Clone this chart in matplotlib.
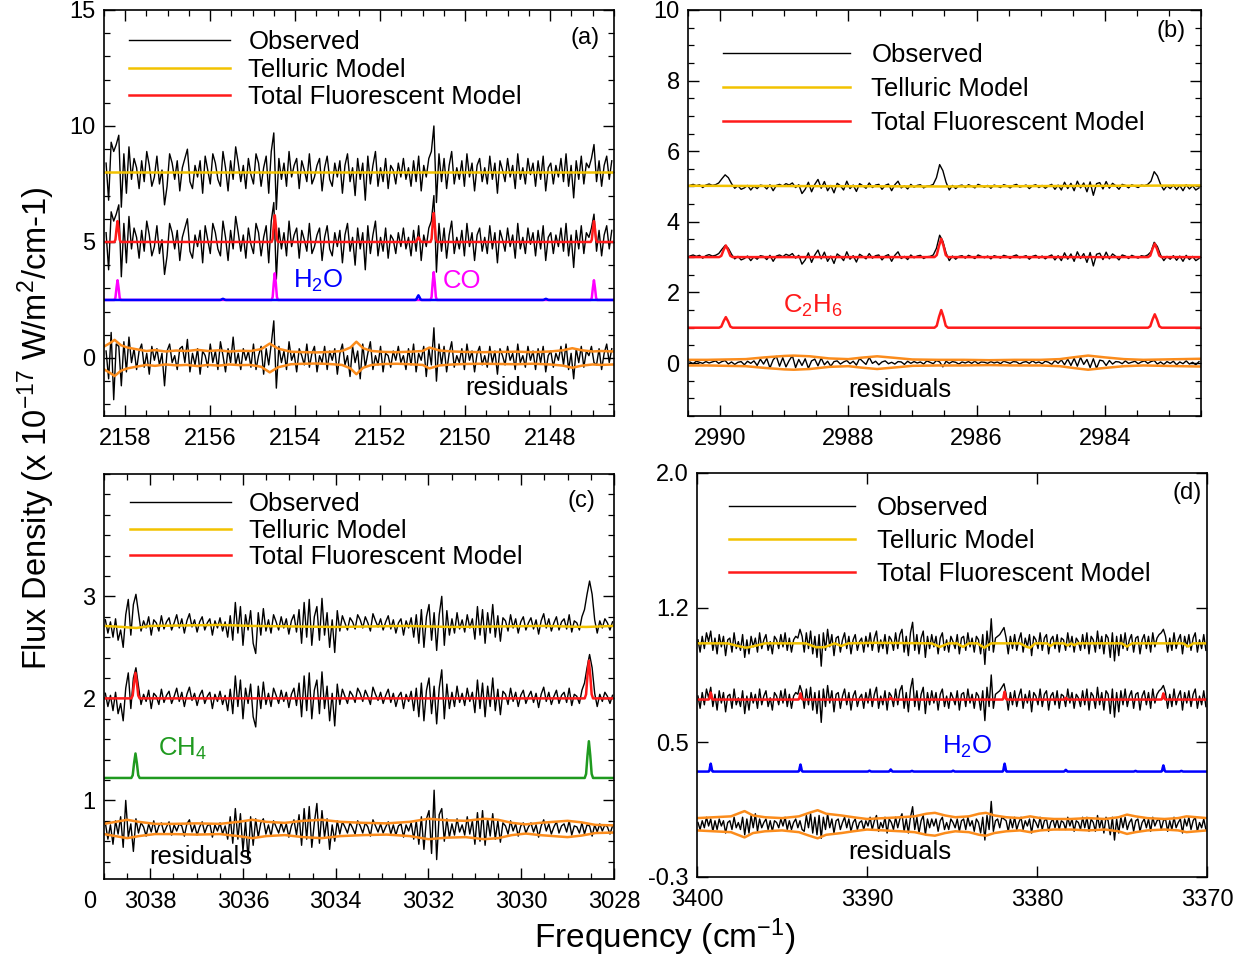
import numpy as np
import matplotlib
matplotlib.use("Agg")
import matplotlib.pyplot as plt
from matplotlib.ticker import MultipleLocator, NullLocator

plt.rcParams["font.family"] = ["Liberation Sans", "DejaVu Sans"]
plt.rcParams["mathtext.fontset"] = "custom"
plt.rcParams["mathtext.rm"] = "Liberation Sans"
plt.rcParams["mathtext.it"] = "Liberation Sans:italic"
plt.rcParams["mathtext.default"] = "regular"

# ---------------- data ----------------
# generic sampled line profile (in units of a per-panel step)
PEAK_DX = [-3, -2, -1, 0, 1, 2, 3]
PEAK_SHAPE = [0.0, 0.11, 0.61, 1.0, 0.61, 0.11, 0.0]

# (a) CO / H2O near 2150 cm-1
a_range = (2158.45, 2146.55)
obs_a = [
    0.4, -1.2, 1.3, 0.9, 1.2, 1.6, -1.5, 0.8, -0.9, 1.1,
    -0.3, 0.6, 0.2, -0.7, 0.5, -0.4, 0.9, 0.3, -0.6, -0.2,
    0.7, -0.5, 0.1, -1.4, -0.6, 0.8, 0.4, -0.3, 0.5, -0.8,
    0.2, 0.6, 1.0, -0.4, -0.7, 0.3, -0.2, 0.5, -0.9, 0.7,
    0.1, -0.5, 0.8, 0.4, -0.3, -0.6, 0.9, 0.2, -0.8, 0.5,
    -0.3, 1.1, 0.4, -0.4, 0.3, -0.7, 0.6, -0.1, -0.5, 0.8,
    0.4, -0.6, 0.2, 0.7, -0.9, 0.9, 1.7, -1.6, 0.6, -0.3,
    0.4, -0.6, 0.9, -0.2, 0.3, 0.6, -0.7, 0.5, 0.1, -0.4,
    0.8, -0.5, -0.2, 0.3, 0.6, -0.8, 0.2, 0.7, -0.3, -0.6,
    0.4, -0.2, 0.5, -0.9, 0.3, 0.8, -0.4, 0.2, -1.0, 0.6,
    -0.3, 0.4, -1.2, 0.7, -0.5, 0.3, 0.9, -0.6, 0.2, -0.4,
    0.6, -0.7, 0.3, 0.1, -0.5, 0.4, -0.2, 0.6, -0.3, 0.2,
    -0.6, 0.5, -0.4, 0.7, -0.8, 0.3, -0.2, 0.6, 0.9, 2.0,
    -1.3, 0.8, -0.4, 0.6, -0.7, 0.3, 0.9, -0.5, 0.2, -0.3,
    0.5, -0.6, 0.8, -0.2, 0.4, -0.8, 0.3, 0.6, -0.4, 0.2,
    -0.5, 0.7, -0.3, 0.4, -0.9, 0.5, 0.1, -0.4, 0.6, -0.2,
    0.3, -0.7, 0.8, -0.3, 0.2, -0.5, 0.6, -0.1, 0.4, -0.6,
    0.5, -0.3, 0.7, -0.8, 0.2, 0.4, -0.5, 0.3, -0.2, 0.6,
    -0.4, 0.8, -0.6, 0.3, -1.1, 0.5, -0.3, 0.7, -0.5, 0.4,
    0.2, 0.6, 1.2, -0.4, 0.5, -0.6, 0.3, 0.7, -0.3, 0.5,
]
res_a = [
    0.3, -0.9, 1.1, -1.8, 0.6, 0.5, -1.2, 0.7, -0.6, 0.9,
    -0.2, 0.4, -0.5, 0.3, 0.6, -0.4, 0.2, -0.7, 0.5, -0.1,
    0.4, -0.3, 0.2, -1.2, 0.3, 0.6, -0.2, 0.1, -0.5, 0.4,
    0.5, -0.2, 0.8, -0.6, 0.2, -0.3, 0.4, -0.7, 0.3, 0.1,
    -0.4, 0.6, -0.2, 0.3, -0.5, 0.7, 0.1, -0.6, 0.4, -0.2,
    0.9, -0.3, 0.2, -0.5, 0.4, -0.1, 0.3, -0.4, 0.6, -0.5,
    0.1, 0.5, -0.7, 0.4, -0.3, 0.6, 1.6, -1.3, 0.5, -0.2,
    0.3, -0.5, 0.7, -0.1, 0.2, -0.6, 0.4, 0.1, -0.3, 0.6,
    -0.4, 0.2, 0.5, -0.6, 0.1, -0.2, 0.5, -0.5, 0.3, -0.1,
    0.4, -0.7, 0.2, 0.6, -0.3, 0.1, -0.8, 0.5, -0.2, 0.3,
    -0.9, 0.6, -0.4, 0.2, 0.7, -0.5, 0.1, -0.3, 0.5, -0.6,
    0.2, 0.1, -0.4, 0.3, -0.1, 0.5, -0.2, 0.1, -0.5, 0.4,
    -0.3, 0.6, -0.6, 0.2, -0.1, 0.5, -0.8, 0.4, -0.3, 1.3,
    -1.0, 0.6, -0.3, 0.5, -0.6, 0.2, 0.7, -0.4, 0.1, -0.2,
    0.4, -0.5, 0.6, -0.1, 0.3, -0.6, 0.2, 0.5, -0.3, 0.1,
    -0.4, 0.5, -0.2, 0.3, -0.7, 0.4, 0.1, -0.3, 0.5, -0.1,
    0.2, -0.5, 0.6, -0.2, 0.1, -0.4, 0.5, -0.1, 0.3, -0.5,
    0.4, -0.2, 0.5, -0.6, 0.1, 0.3, -0.4, 0.2, -0.1, 0.5,
    -0.3, 0.6, -0.5, 0.2, -0.9, 0.4, -0.2, 0.5, -0.4, 0.3,
    0.1, 0.5, -0.2, -0.3, 0.4, -0.5, 0.2, 0.6, -0.2, 0.4,
]
env_a_x = [2158.49, 2158.35, 2158.25, 2158.1, 2157.95, 2157.75, 2157.5, 2157.3,
           2157.05, 2156.8, 2156.55, 2156.3, 2156.05, 2155.8, 2155.55, 2155.3,
           2155.05, 2154.8, 2154.6, 2154.4, 2154.1, 2153.8, 2153.5, 2153.2,
           2152.9, 2152.7, 2152.56, 2152.4, 2152.2, 2151.9, 2151.6, 2151.3,
           2151.0, 2150.84, 2150.6, 2150.3, 2150.0, 2149.6, 2149.2, 2148.8,
           2148.4, 2148.0, 2147.7, 2147.48, 2147.25, 2147.0, 2146.8, 2146.5]
env_a_s = [0.5, 0.65, 0.78, 0.55, 0.45, 0.38, 0.3, 0.34,
           0.28, 0.32, 0.3, 0.35, 0.3, 0.33, 0.28, 0.31,
           0.3, 0.38, 0.62, 0.4, 0.27, 0.25, 0.24, 0.26,
           0.3, 0.45, 0.7, 0.42, 0.3, 0.26, 0.25, 0.27,
           0.3, 0.45, 0.32, 0.28, 0.26, 0.25, 0.26, 0.27,
           0.25, 0.28, 0.33, 0.42, 0.33, 0.28, 0.3, 0.28]
tell_a_x = [2158.5, 2146.5]
tell_a_y = [8.0, 8.0]
tot_a_c = [2158.18, 2154.48, 2151.1, 2150.74, 2146.97]
tot_a_h = [0.9, 1.15, 0.2, 1.25, 0.9]
h2o_a_c = [2155.7, 2151.1, 2148.1]
h2o_a_h = [0.05, 0.2, 0.05]
co_a_c = [2158.18, 2154.48, 2150.74, 2146.97]
co_a_h = [0.85, 1.15, 1.2, 0.85]

# (b) C2H6 near 2986 cm-1
b_range = (2990.47, 2982.53)
obs_b = [
    0.03, 0.06, 0.02, 0.05, -0.03, 0.04, 0.07, 0.03, 0.05, 0.1,
    0.22, 0.33, 0.25, 0.08, -0.05, 0.02, -0.08, -0.04, 0.03, -0.1,
    0.01, -0.06, 0.04, 0.02, -0.07, 0.05, -0.12, 0.03, 0.06, 0.01,
    0.08, 0.04, 0.1, -0.03, 0.05, -0.2, -0.08, 0.12, -0.15, 0.06,
    0.2, -0.05, 0.14, -0.12, 0.03, -0.18, 0.09, 0.02, -0.1, 0.15,
    -0.06, 0.04, -0.14, 0.08, 0.02, -0.05, 0.1, -0.03, 0.04, 0.06,
    -0.08, 0.03, 0.07, -0.12, 0.05, 0.15, -0.04, 0.02, -0.07, 0.06,
    -0.02, 0.03, 0.05, -0.04, 0.01, 0.02, 0.06, 0.25, 0.62, 0.45,
    0.12, -0.1, 0.03, -0.06, 0.02, 0.04, -0.03, 0.05, 0.01, -0.04,
    0.06, 0.02, -0.02, 0.03, -0.05, 0.04, 0.01, -0.03, 0.05, 0.02,
    -0.04, 0.03, 0.06, -0.02, 0.01, 0.04, -0.06, 0.02, 0.05, -0.03,
    0.03, -0.05, 0.02, 0.06, -0.08, 0.04, -0.1, 0.12, -0.06, 0.09,
    -0.12, 0.15, -0.04, 0.1, -0.15, 0.13, -0.25, 0.08, 0.11, -0.07,
    0.14, -0.05, 0.09, 0.02, -0.08, 0.06, 0.03, -0.04, 0.05, 0.01,
    -0.03, 0.04, 0.02, 0.06, 0.15, 0.42, 0.3, 0.06, -0.1, 0.02,
    -0.06, 0.04, -0.09, 0.03, -0.12, 0.05, -0.07, 0.02, -0.1, -0.04,
]
res_b = [
    0.02, -0.03, 0.04, 0.01, -0.02, 0.03, -0.01, 0.02, 0.05, -0.02,
    0.03, 0.06, -0.04, 0.02, -0.05, 0.01, 0.03, -0.06, 0.04, -0.02,
    0.05, -0.08, 0.1, -0.04, 0.12, -0.15, 0.08, 0.18, -0.1, 0.14,
    -0.12, 0.06, 0.2, -0.14, 0.09, -0.08, 0.11, -0.16, 0.05, 0.1,
    -0.09, 0.13, -0.06, 0.04, -0.1, 0.03, 0.05, -0.04, 0.02, 0.06,
    -0.03, 0.04, -0.07, 0.12, 0.03, -0.05, 0.15, -0.02, 0.04, -0.06,
    0.02, 0.05, -0.03, 0.01, -0.04, 0.03, 0.02, -0.05, 0.04, -0.02,
    0.03, -0.01, 0.02, -0.04, 0.05, 0.01, -0.03, 0.06, 0.02, -0.12,
    0.04, -0.02, 0.03, 0.01, -0.04, 0.02, -0.01, 0.03, -0.02, 0.04,
    -0.03, 0.02, 0.01, -0.02, 0.03, -0.01, 0.02, -0.03, 0.04, 0.01,
    -0.02, 0.03, 0.02, -0.04, 0.01, 0.03, -0.02, 0.05, -0.01, 0.02,
    -0.03, 0.04, 0.01, -0.05, 0.06, -0.02, 0.08, -0.06, 0.1, -0.08,
    0.12, -0.1, 0.15, -0.05, 0.09, -0.14, 0.11, -0.16, 0.07, 0.05,
    -0.08, 0.06, -0.04, 0.03, 0.02, -0.03, 0.05, -0.02, 0.01, 0.04,
    -0.03, 0.02, 0.05, -0.02, 0.03, 0.06, -0.04, 0.02, -0.05, 0.03,
    -0.02, 0.04, -0.06, 0.02, -0.03, 0.05, -0.04, 0.01, -0.06, 0.03,
]
env_b_x = [2990.5, 2990.2, 2989.9, 2989.6, 2989.3, 2989.0, 2988.85, 2988.6,
           2988.3, 2988.0, 2987.8, 2987.55, 2987.3, 2987.0, 2986.6, 2986.2,
           2985.8, 2985.4, 2985.0, 2984.7, 2984.45, 2984.26, 2984.0, 2983.7,
           2983.4, 2983.1, 2982.8, 2982.5]
env_b_s = [0.08, 0.08, 0.09, 0.1, 0.15, 0.19, 0.2, 0.18,
           0.12, 0.1, 0.14, 0.18, 0.14, 0.09, 0.08, 0.08,
           0.07, 0.08, 0.08, 0.1, 0.16, 0.2, 0.15, 0.1,
           0.08, 0.09, 0.1, 0.11]
tell_b_x = [2990.5, 2986.5, 2982.5]
tell_b_y = [5.02, 5.0, 5.03]
tot_b_c = [2989.91, 2986.55, 2983.22]
tot_b_h = [0.33, 0.52, 0.38]
c2h6_b_h = [0.3, 0.5, 0.38]

# (c) CH4 near 3033 cm-1
c_range = (3038.97, 3028.03)
obs_c = [
    0.05, -0.08, 0.03, -0.12, 0.06, -0.15, -0.05, -0.22, 0.1, 0.25,
    -0.1, 0.2, 0.3, 0.12, -0.06, 0.04, -0.03, 0.08, -0.1, 0.05,
    0.02, -0.06, 0.09, -0.04, 0.03, 0.07, -0.05, 0.02, 0.1, -0.03,
    0.06, -0.08, 0.04, 0.11, -0.02, 0.05, -0.07, 0.03, 0.08, -0.05,
    0.02, 0.06, -0.1, 0.04, -0.03, 0.07, -0.06, 0.03, -0.12, 0.09,
    -0.15, 0.22, -0.08, 0.18, -0.2, 0.1, -0.05, 0.14, -0.18, -0.28,
    0.12, -0.1, 0.16, -0.06, 0.05, -0.08, 0.1, 0.03, -0.05, 0.08,
    -0.03, 0.06, -0.09, 0.04, 0.1, -0.07, 0.15, -0.18, 0.22, -0.12,
    0.25, -0.2, 0.08, 0.18, -0.15, 0.26, -0.1, 0.12, -0.22, 0.05,
    -0.27, 0.14, -0.06, 0.09, 0.02, -0.05, 0.07, 0.03, -0.04, 0.1,
    0.05, -0.03, 0.08, 0.02, -0.06, 0.11, 0.04, -0.02, 0.06, -0.05,
    0.03, 0.09, -0.04, 0.05, -0.08, 0.02, 0.06, -0.1, 0.04, -0.03,
    0.07, -0.12, 0.1, -0.18, 0.15, -0.22, 0.08, 0.2, -0.15, 0.12,
    -0.25, 0.1, 0.28, -0.2, 0.14, -0.1, 0.06, -0.08, 0.12, -0.04,
    0.05, -0.07, 0.1, -0.03, 0.06, -0.14, 0.18, -0.1, 0.15, -0.18,
    0.12, -0.08, 0.2, -0.12, 0.09, -0.16, 0.07, 0.04, -0.06, 0.1,
    -0.03, 0.06, -0.08, 0.03, 0.08, -0.05, 0.02, 0.07, -0.04, 0.05,
    -0.09, 0.04, 0.11, -0.03, 0.06, -0.06, 0.02, 0.08, -0.05, 0.03,
    0.06, -0.04, 0.1, -0.07, 0.04, 0.02, -0.05, 0.08, 0.15, 0.3,
    0.43, 0.3, 0.05, -0.08, 0.04, -0.03, 0.06, 0.02, -0.05, 0.03,
]
res_c = [
    0.06, -0.1, 0.04, -0.15, 0.08, -0.05, 0.12, -0.18, 0.28, -0.08,
    0.05, -0.22, 0.1, -0.04, 0.06, 0.02, -0.07, 0.05, -0.03, 0.08,
    -0.05, 0.03, 0.06, -0.04, 0.02, 0.07, -0.06, 0.04, -0.02, 0.05,
    0.03, -0.07, 0.05, 0.09, -0.03, 0.04, -0.06, 0.02, 0.07, -0.04,
    0.03, 0.05, -0.08, 0.04, -0.02, 0.06, -0.05, 0.03, -0.1, 0.12,
    -0.14, 0.2, -0.1, 0.15, -0.22, 0.08, -0.3, 0.12, -0.16, 0.1,
    -0.08, 0.06, 0.1, -0.05, 0.04, -0.07, 0.08, 0.02, -0.04, 0.06,
    -0.03, 0.05, -0.08, 0.03, 0.09, -0.06, 0.14, -0.16, 0.2, -0.1,
    0.22, -0.18, 0.06, 0.25, -0.14, 0.18, -0.08, 0.1, -0.2, 0.04,
    -0.12, 0.08, -0.05, 0.07, 0.02, -0.04, 0.06, 0.01, -0.05, 0.08,
    0.03, -0.04, 0.06, 0.02, -0.07, 0.09, 0.03, -0.03, 0.05, -0.04,
    0.02, 0.07, -0.05, 0.04, -0.06, 0.03, 0.05, -0.08, 0.04, -0.02,
    0.06, -0.1, 0.08, -0.15, 0.12, -0.2, 0.1, 0.18, -0.24, 0.38,
    -0.3, 0.14, 0.2, -0.12, 0.1, -0.08, 0.05, -0.06, 0.1, -0.03,
    0.04, -0.06, 0.12, -0.05, 0.08, -0.15, 0.16, -0.12, 0.18, -0.16,
    0.1, -0.07, 0.15, -0.1, 0.08, -0.13, 0.06, 0.03, -0.05, 0.08,
    -0.02, 0.05, -0.07, 0.03, 0.06, -0.04, 0.02, 0.06, -0.03, 0.04,
    -0.08, 0.03, 0.09, -0.02, 0.05, -0.05, 0.02, 0.07, -0.04, 0.03,
    0.05, -0.03, 0.08, -0.06, 0.03, 0.02, -0.04, 0.06, -0.05, 0.04,
    0.03, -0.07, 0.04, -0.03, 0.05, -0.02, 0.04, 0.02, -0.05, 0.03,
]
env_c_x = [3039.0, 3038.75, 3038.5, 3038.25, 3037.9, 3037.5, 3037.0, 3036.5,
           3036.1, 3035.8, 3035.5, 3035.1, 3034.7, 3034.3, 3033.9, 3033.4,
           3032.9, 3032.4, 3032.0, 3031.6, 3031.2, 3030.8, 3030.5, 3030.2,
           3029.9, 3029.6, 3029.3, 3029.0, 3028.7, 3028.4, 3028.0]
env_c_s = [0.05, 0.07, 0.09, 0.07, 0.05, 0.05, 0.055, 0.05,
           0.07, 0.09, 0.07, 0.06, 0.08, 0.09, 0.07, 0.06,
           0.055, 0.07, 0.1, 0.085, 0.08, 0.1, 0.09, 0.06,
           0.045, 0.06, 0.07, 0.08, 0.065, 0.04, 0.035]
tell_c_x = [3039.0, 3038.6, 3038.3, 3038.0, 3036.5, 3035.8, 3034.0, 3032.5,
            3031.5, 3029.5, 3028.6, 3028.0]
tell_c_y = [2.71, 2.7, 2.69, 2.71, 2.72, 2.71, 2.7, 2.71, 2.7, 2.71, 2.7, 2.71]
tot_c_c = [3038.32, 3028.54]
tot_c_h = [0.25, 0.37]
ch4_c_h = [0.24, 0.36]

# (d) H2O near 3385 cm-1
d_range = (3399.94, 3370.06)
obs_d = [
    0.02, -0.05, 0.04, -0.03, 0.06, 0.01, 0.07, -0.04, 0.03, -0.06,
    0.05, -0.02, 0.04, -0.07, 0.02, 0.03, -0.05, 0.06, -0.03, 0.01,
    -0.04, 0.05, -0.08, 0.02, -0.06, 0.04, -0.02, 0.03, -0.05, 0.06,
    -0.03, 0.02, 0.05, -0.04, 0.01, -0.06, 0.04, 0.02, -0.03, 0.05,
    -0.02, 0.06, -0.04, 0.03, -0.05, 0.02, 0.04, 0.03, 0.08, 0.04,
    -0.05, 0.06, -0.03, 0.07, -0.06, 0.04, -0.08, 0.05, -0.13, 0.06,
    -0.04, 0.08, -0.02, 0.05, -0.07, 0.03, 0.04, -0.05, 0.02, 0.06,
    -0.03, 0.04, -0.06, 0.02, 0.05, -0.04, 0.01, 0.03, -0.05, 0.04,
    -0.02, 0.06, -0.04, 0.03, 0.07, -0.05, 0.02, -0.03, 0.05, -0.06,
    0.04, 0.02, -0.04, 0.06, -0.03, 0.05, 0.08, -0.05, 0.04, -0.07,
    0.06, 0.12, -0.04, 0.05, -0.06, 0.03, 0.07, -0.08, 0.04, -0.03,
    0.05, -0.02, 0.04, -0.06, 0.03, 0.06, -0.04, 0.02, -0.05, 0.04,
    0.01, -0.03, 0.05, -0.06, 0.03, 0.04, -0.04, 0.06, -0.02, 0.03,
    -0.05, 0.04, 0.02, -0.06, 0.05, -0.12, 0.07, -0.04, 0.14, -0.05,
    0.03, 0.04, 0.05, 0.07, 0.09, 0.03, -0.06, 0.04, -0.03, 0.05,
    -0.04, 0.02, 0.06, -0.05, 0.03, -0.02, 0.05, -0.07, 0.04, 0.02,
    -0.03, 0.06, -0.04, 0.03, 0.05, -0.06, 0.02, 0.04, -0.03, 0.05,
    -0.05, 0.03, 0.02, -0.04, 0.06, -0.02, 0.04, -0.05, 0.03, 0.01,
    -0.04, 0.05, -0.03, 0.06, -0.06, 0.04, 0.02, -0.05, 0.07, -0.03,
    0.04, -0.06, 0.05, 0.03, -0.08, 0.06, -0.1, 0.04, -0.07, 0.05,
    -0.03, 0.06, -0.04, 0.02, 0.05, -0.05, 0.03, 0.04, -0.06, 0.02,
    0.05, -0.03, 0.04, -0.05, 0.06, -0.02, 0.03, 0.05, 0.06, 0.08,
    0.04, -0.05, 0.03, -0.04, 0.06, -0.03, 0.02, 0.05, -0.06, 0.04,
    -0.02, 0.05, -0.04, 0.03, 0.06, -0.05, 0.02, -0.03, 0.05, -0.04,
]
res_d = [
    0.01, -0.03, 0.02, -0.02, 0.04, -0.01, 0.03, -0.04, 0.02, -0.03,
    0.03, -0.01, 0.02, -0.05, 0.01, 0.02, -0.03, 0.04, -0.02, 0.01,
    -0.03, 0.04, -0.06, 0.03, -0.05, 0.05, -0.02, 0.06, -0.04, 0.03,
    -0.02, 0.01, 0.03, -0.03, 0.02, -0.04, 0.02, 0.01, -0.02, 0.03,
    -0.01, 0.04, -0.03, 0.02, -0.03, 0.01, 0.03, -0.02, 0.02, -0.03,
    -0.04, 0.05, -0.02, 0.06, -0.05, 0.04, -0.06, 0.05, -0.08, 0.04,
    -0.03, 0.06, -0.02, 0.03, -0.05, 0.02, 0.03, -0.03, 0.01, 0.04,
    -0.02, 0.03, -0.04, 0.01, 0.03, -0.03, 0.01, 0.02, -0.03, 0.02,
    -0.01, 0.04, -0.03, 0.02, 0.05, -0.04, 0.01, -0.02, 0.04, -0.05,
    0.03, 0.01, -0.03, 0.04, -0.02, 0.03, 0.06, -0.04, 0.03, -0.05,
    0.04, 0.1, -0.03, 0.04, -0.05, 0.02, 0.05, -0.06, 0.03, -0.02,
    0.03, -0.01, 0.03, -0.04, 0.02, 0.04, -0.03, 0.01, -0.03, 0.03,
    0.01, -0.02, 0.03, -0.04, 0.02, 0.03, -0.03, 0.04, -0.01, 0.02,
    -0.04, 0.03, 0.01, -0.05, 0.04, -0.09, 0.05, -0.03, 0.13, -0.04,
    0.02, 0.03, -0.02, 0.04, 0.03, 0.02, -0.04, 0.03, -0.02, 0.04,
    -0.03, 0.01, 0.04, -0.03, 0.02, -0.01, 0.03, -0.05, 0.03, 0.01,
    -0.02, 0.04, -0.03, 0.02, 0.03, -0.04, 0.01, 0.03, -0.02, 0.03,
    -0.03, 0.02, 0.01, -0.03, 0.04, -0.01, 0.03, -0.04, 0.02, 0.01,
    -0.03, 0.04, -0.02, 0.04, -0.04, 0.03, 0.01, -0.04, 0.05, -0.02,
    0.03, -0.05, 0.04, 0.02, -0.06, 0.04, -0.09, 0.03, -0.05, 0.04,
    -0.02, 0.04, -0.03, 0.01, 0.03, -0.04, 0.02, 0.03, -0.04, 0.01,
    0.03, -0.02, 0.03, -0.04, 0.04, -0.01, 0.02, 0.03, -0.03, 0.02,
    0.03, -0.04, 0.02, -0.03, 0.04, -0.02, 0.01, 0.03, -0.05, 0.03,
    -0.01, 0.04, -0.03, 0.02, 0.04, -0.04, 0.01, -0.02, 0.03, -0.03,
]
env_d_x = [3400, 3399, 3398, 3397.6, 3397.2, 3396.7, 3396, 3395, 3394, 3393.4,
           3392.9, 3392.4, 3391.5, 3390.8, 3390, 3389, 3388, 3387.2, 3386.5,
           3386.0, 3385.4, 3384.8, 3384.0, 3383.4, 3383.0, 3382.5, 3381.8,
           3381, 3380.4, 3379.8, 3379, 3378, 3377, 3376, 3375.2, 3374.7,
           3374.2, 3373.5, 3372.5, 3371.7, 3371.2, 3370.6, 3370]
env_d_s = [0.035, 0.04, 0.045, 0.06, 0.075, 0.05, 0.04, 0.035, 0.045, 0.065,
           0.08, 0.06, 0.05, 0.04, 0.03, 0.035, 0.04, 0.045, 0.06,
           0.065, 0.05, 0.04, 0.045, 0.06, 0.065, 0.05, 0.04,
           0.035, 0.045, 0.035, 0.03, 0.03, 0.035, 0.03, 0.04, 0.055,
           0.045, 0.035, 0.03, 0.035, 0.045, 0.04, 0.035]
tell_d_x = [3400, 3398.2, 3397.6, 3397.1, 3396.6, 3396.0, 3393.6, 3393.0, 3392.5,
            3391.9, 3391.5, 3391.1, 3389.5, 3386.2, 3385.7, 3385.2, 3384.7,
            3384.35, 3384.0, 3383.5, 3383.1, 3382.7, 3381.0, 3380.6, 3380.4,
            3380.1, 3379.4, 3379.2, 3379.0, 3378.4, 3378.2, 3378.0, 3377.8,
            3377.6, 3377.4, 3375.0, 3374.7, 3374.4, 3371.4, 3371.1, 3370.8, 3370]
tell_d_y = [1.03, 1.03, 1.015, 1.005, 1.015, 1.03, 1.03, 1.008, 1.008,
            1.03, 1.015, 1.03, 1.033, 1.03, 1.01, 1.03, 1.03,
            1.01, 1.03, 1.03, 1.005, 1.03, 1.03, 1.01, 1.005,
            1.03, 1.03, 1.015, 1.03, 1.03, 1.018, 1.03, 1.02,
            1.03, 1.03, 1.03, 1.012, 1.03, 1.03, 1.012, 1.03, 1.03]
tot_d_c = [3399.19, 3393.91, 3388.6, 3381.9, 3378.3, 3372.56]
tot_d_h = [0.04, 0.035, 0.01, 0.045, 0.01, 0.035]
h2o_d_c = [3399.19, 3393.91, 3389.85, 3388.6, 3387.35, 3384.93, 3381.9,
           3378.3, 3374.2, 3372.56, 3371.5]
h2o_d_h = [0.045, 0.04, 0.005, 0.012, 0.004, 0.005, 0.045, 0.01, 0.004,
           0.035, 0.004]

LEGEND_LABELS = ["Observed", "Telluric Model", "Total Fluorescent Model"]

# ---------------- helpers ----------------
C_TELL = "#f2c200"
C_RED = "#ff1a1a"
C_ORANGE = "#fb8c1c"
TXT = 18.5
TICK = 17


def line_model(xlim, base, centers, heights, step):
    pts = [(xlim[0], 0.0), (xlim[1], 0.0)]
    for c, h in zip(centers, heights):
        pts += [(c + d * step, h * s) for d, s in zip(PEAK_DX, PEAK_SHAPE)]
    pts.sort()
    return np.array([p[0] for p in pts]), base + np.array([p[1] for p in pts])


def grid(rng, n):
    return np.linspace(rng[0], rng[1], n)


def style_axes(ax, xlim, ylim):
    ax.set_xlim(*xlim)
    ax.set_ylim(*ylim)
    ax.tick_params(which="both", direction="in", top=True, right=True)
    ax.tick_params(which="major", length=8, width=1.0, labelsize=TICK)
    ax.tick_params(which="minor", length=4, width=0.9)
    ax.tick_params(axis="x", pad=9)
    ax.tick_params(axis="y", pad=6)
    for sp in ax.spines.values():
        sp.set_linewidth(1.2)


def panel(ax, rng, obs, res, top, mid, resoff, tell_x, tell_y, tot_x, tot_y,
          env_x, env_s):
    x = grid(rng, len(obs))
    xr = grid(rng, len(res))
    h_obs, = ax.plot(x, np.array(obs) + top, color="black", lw=1.0)
    h_tell, = ax.plot(tell_x, tell_y, color=C_TELL, lw=1.8)
    ax.plot(x, np.array(obs) + mid, color="black", lw=1.0)
    h_tot, = ax.plot(tot_x, tot_y, color=C_RED, lw=1.8)
    ax.plot(xr, np.array(res) + resoff, color="black", lw=1.0)
    ex = np.array(env_x)
    es = np.array(env_s)
    ax.plot(ex, resoff + es, color=C_ORANGE, lw=1.8)
    ax.plot(ex, resoff - es, color=C_ORANGE, lw=1.8)
    return [h_obs, h_tell, h_tot]


def add_legend(ax, handles, anchor, hlen, tpad, lspace):
    ax.legend(handles, LEGEND_LABELS, loc="upper left", bbox_to_anchor=anchor,
              frameon=False, fontsize=TXT, handlelength=hlen,
              handletextpad=tpad, labelspacing=lspace, borderpad=0,
              borderaxespad=0)


fig = plt.figure(figsize=(12.45, 9.58), dpi=100)
ax_a = fig.add_axes([0.0835, 0.5658, 0.4096, 0.4238])
ax_b = fig.add_axes([0.5526, 0.5658, 0.4120, 0.4238])
ax_c = fig.add_axes([0.0835, 0.0825, 0.4096, 0.4228])
ax_d = fig.add_axes([0.5598, 0.0846, 0.4096, 0.4217])

# ---- (a)
xa = (2158.5, 2146.5)
tx, ty = line_model(xa, 5.0, tot_a_c, tot_a_h, 0.025)
hs = panel(ax_a, a_range, obs_a, res_a, 8.0, 5.0, 0.0, tell_a_x, tell_a_y,
           tx, ty, env_a_x, env_a_s)
cx, cy = line_model(xa, 2.5, co_a_c, co_a_h, 0.025)
ax_a.plot(cx, cy, color="#ff00ff", lw=1.8)
wx, wy = line_model(xa, 2.5, h2o_a_c, h2o_a_h, 0.025)
ax_a.plot(wx, wy, color="#0000ff", lw=1.8)
style_axes(ax_a, xa, (-2.5, 15))
ax_a.yaxis.set_major_locator(MultipleLocator(5))
ax_a.yaxis.set_minor_locator(MultipleLocator(1))
ax_a.xaxis.set_major_locator(MultipleLocator(2))
ax_a.xaxis.set_minor_locator(MultipleLocator(0.5))
ax_a.text(2153.46, 3.32, "H$_2$O", color="#0000ff", fontsize=TXT,
          ha="center", va="center")
ax_a.text(2150.08, 3.32, "CO", color="#ff00ff", fontsize=TXT,
          ha="center", va="center")
ax_a.text(2148.78, -1.29, "residuals", fontsize=TXT, ha="center", va="center")
ax_a.text(0.943, 0.931, "(a)", transform=ax_a.transAxes, fontsize=17,
          ha="center", va="center")
add_legend(ax_a, hs, (0.05, 0.95), 3.93, 0.7, 0.14)

# ---- (b)
xb = (2990.5, 2982.5)
tx, ty = line_model(xb, 3.0, tot_b_c, tot_b_h, 0.035)
hs = panel(ax_b, b_range, obs_b, res_b, 5.0, 3.0, 0.01, tell_b_x, tell_b_y,
           tx, ty, env_b_x, env_b_s)
ex_, ey_ = line_model(xb, 1.0, tot_b_c, c2h6_b_h, 0.035)
ax_b.plot(ex_, ey_, color=C_RED, lw=1.8)
style_axes(ax_b, xb, (-1.5, 10))
ax_b.yaxis.set_major_locator(MultipleLocator(2))
ax_b.yaxis.set_minor_locator(MultipleLocator(0.5))
ax_b.xaxis.set_major_locator(MultipleLocator(2))
ax_b.xaxis.set_minor_locator(MultipleLocator(0.5))
ax_b.text(2988.56, 1.63, "C$_2$H$_6$", color=C_RED, fontsize=TXT,
          ha="center", va="center")
ax_b.text(2987.19, -0.76, "residuals", fontsize=TXT, ha="center", va="center")
ax_b.text(0.942, 0.947, "(b)", transform=ax_b.transAxes, fontsize=17,
          ha="center", va="center")
add_legend(ax_b, hs, (0.069, 0.918), 4.94, 0.82, 0.38)

# ---- (c)
xc = (3039.0, 3028.0)
tx, ty = line_model(xc, 2.0, tot_c_c, tot_c_h, 0.03)
hs = panel(ax_c, c_range, obs_c, res_c, 2.72, 2.0, 0.72, tell_c_x, tell_c_y,
           tx, ty, env_c_x, env_c_s)
mx, my = line_model(xc, 1.22, tot_c_c, ch4_c_h, 0.03)
ax_c.plot(mx, my, color="#1f9a1f", lw=1.8)
style_axes(ax_c, xc, (0.23, 4.2))
ax_c.set_yticks([1, 2, 3])
ax_c.yaxis.set_minor_locator(MultipleLocator(0.2))
ax_c.xaxis.set_major_locator(MultipleLocator(2))
ax_c.xaxis.set_minor_locator(MultipleLocator(0.5))
ax_c.text(-0.028, 0.0, "0", transform=ax_c.get_yaxis_transform(),
          fontsize=TICK, ha="center", va="center", clip_on=False)
ax_c.text(3037.3, 1.5, "CH$_4$", color="#1f9a1f", fontsize=TXT,
          ha="center", va="center")
ax_c.text(3036.9, 0.45, "residuals", fontsize=TXT, ha="center", va="center")
ax_c.text(0.937, 0.934, "(c)", transform=ax_c.transAxes, fontsize=17,
          ha="center", va="center")
add_legend(ax_c, hs, (0.052, 0.956), 3.9, 0.72, 0.11)

# ---- (d)
xd = (3400.0, 3370.0)
tx, ty = line_model(xd, 0.71, tot_d_c, tot_d_h, 0.04)
hs = panel(ax_d, d_range, obs_d, res_d, 1.03, 0.71, 0.0, tell_d_x, tell_d_y,
           tx, ty, env_d_x, env_d_s)
wx, wy = line_model(xd, 0.30, h2o_d_c, h2o_d_h, 0.04)
ax_d.plot(wx, wy, color="#0000ff", lw=1.8)
style_axes(ax_d, xd, (-0.3, 2.0))
d_yticks = [-0.3, 0.4667, 1.2333, 2.0]
d_ylabels = ["-0.3", "0.5", "1.2", "2.0"]
ax_d.set_yticks(d_yticks)
ax_d.set_yticklabels(d_ylabels)
ax_d.set_xticks([3400, 3390, 3380, 3370])
ax_d.xaxis.set_minor_locator(NullLocator())
ax_d.yaxis.set_minor_locator(NullLocator())
ax_d.text(3384.1, 0.44, "H$_2$O", color="#0000ff", fontsize=TXT,
          ha="center", va="center")
ax_d.text(3388.05, -0.157, "residuals", fontsize=TXT, ha="center",
          va="center")
ax_d.text(0.962, 0.95, "(d)", transform=ax_d.transAxes, fontsize=17,
          ha="center", va="center")
add_legend(ax_d, hs, (0.063, 0.943), 4.9, 0.86, 0.36)

fig.text(0.534, 0.022, "Frequency (cm$^{-1}$)", fontsize=24, ha="center",
         va="center")
fig.text(0.029, 0.553, "Flux Density (x 10$^{-17}$ W/m$^2$/cm-1)",
         fontsize=23.5, rotation=90, ha="center", va="center")

fig.savefig("out.png", dpi=100)
